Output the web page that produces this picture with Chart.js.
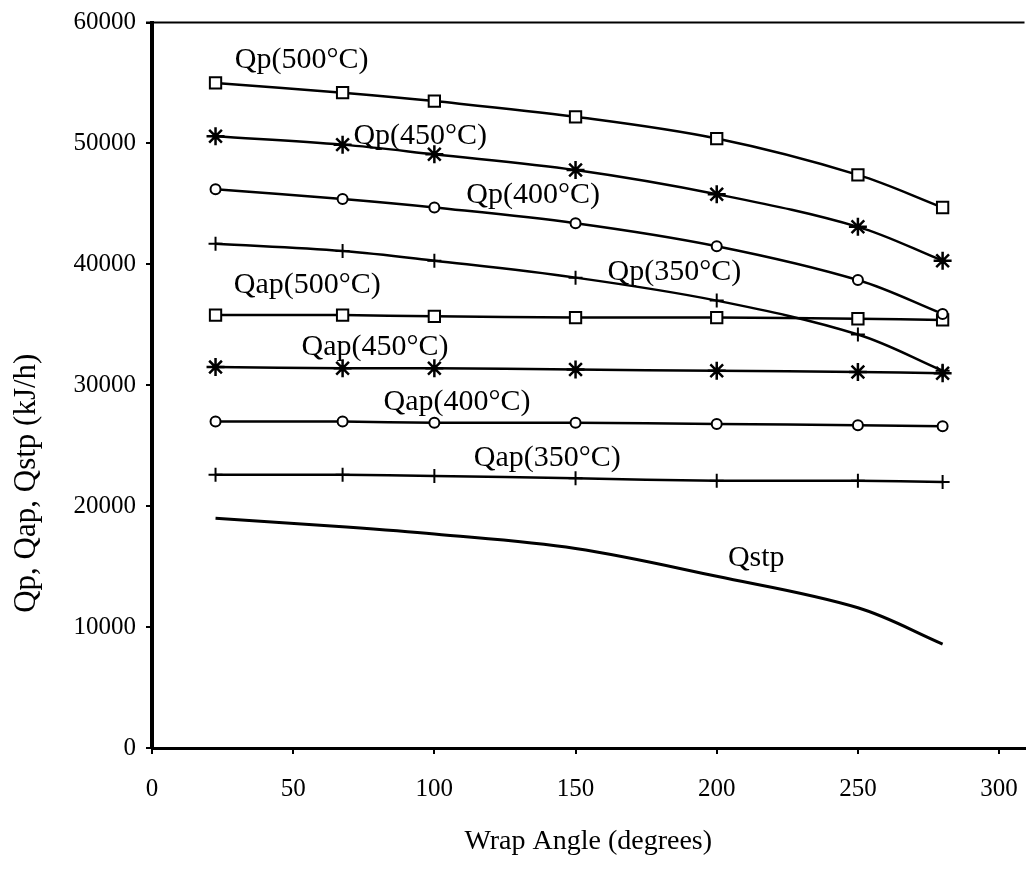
<!DOCTYPE html>
<html>
<head>
<meta charset="utf-8">
<script src="https://cdn.jsdelivr.net/npm/chart.js@4.4.1/dist/chart.umd.min.js"></script>
<style>
  html, body { margin: 0; padding: 0; background: #fff; overflow: hidden; }
  canvas { display: block; }
</style>
</head>
<body>
<canvas id="chart" width="1036" height="870"></canvas>
<script>
// wrap angle (degrees) at which every curve was computed
var wrapAngle = [22.5, 67.5, 100, 150, 200, 250, 280];

// heat flows, kJ/h
var qp500  = [55000, 54200, 53500, 52200, 50400, 47400, 44700];
var qp450  = [50600, 49900, 49100, 47800, 45800, 43100, 40300];
var qp400  = [46200, 45400, 44700, 43400, 41500, 38700, 35900];
var qp350  = [41700, 41100, 40300, 38900, 37000, 34200, 31200];
var qap500 = [35800, 35800, 35700, 35600, 35600, 35500, 35400];
var qap450 = [31500, 31400, 31400, 31300, 31200, 31100, 31000];
var qap400 = [27000, 27000, 26900, 26900, 26800, 26700, 26600];
var qap350 = [22600, 22600, 22500, 22300, 22100, 22100, 22000];
var qstp   = [19000, 18300, 17700, 16500, 14200, 11600, 8600];

var xTicks = [0, 50, 100, 150, 200, 250, 300];
var yTicks = [0, 10000, 20000, 30000, 40000, 50000, 60000];

var xTitle = "Wrap Angle (degrees)";
var yTitle = "Qp, Qap, Qstp (kJ/h)";

// curve labels, placed in data units
var curveLabels = [
  { text: "Qp(500°C)",  x: 53,  y: 56900 },
  { text: "Qp(450°C)",  x: 95,  y: 50600 },
  { text: "Qp(400°C)",  x: 135, y: 45760 },
  { text: "Qp(350°C)",  x: 185, y: 39340 },
  { text: "Qap(500°C)", x: 55,  y: 38270 },
  { text: "Qap(450°C)", x: 79,  y: 33170 },
  { text: "Qap(400°C)", x: 108, y: 28640 },
  { text: "Qap(350°C)", x: 140, y: 23950 },
  { text: "Qstp",       x: 214, y: 15720 }
];

var SERIF = '"Liberation Serif", "Times New Roman", serif';

function series(label, values, style, radius, width) {
  return {
    label: label,
    data: wrapAngle.map(function (x, i) { return { x: x, y: values[i] }; }),
    borderColor: "#000",
    borderWidth: width || 2.5,
    pointStyle: style,
    pointRadius: radius,
    pointBorderColor: "#000",
    pointBackgroundColor: "#fff",
    pointBorderWidth: style === "star" ? 2.5 : 2,
    tension: 0.35,
    fill: false
  };
}

// top frame line, curve labels and the y title
var annotPlugin = {
  id: "annot",
  afterDatasetsDraw: function (chart) {
    var ctx = chart.ctx, xs = chart.scales.x, ys = chart.scales.y, a = chart.chartArea;
    ctx.save();
    ctx.strokeStyle = "#000";
    ctx.lineWidth = 2;
    ctx.beginPath();
    ctx.moveTo(a.left - 6, a.top);
    ctx.lineTo(a.right, a.top);
    ctx.stroke();

    ctx.fillStyle = "#000";
    ctx.textAlign = "center";
    ctx.textBaseline = "middle";
    ctx.font = "30px " + SERIF;
    curveLabels.forEach(function (l) {
      ctx.fillText(l.text, xs.getPixelForValue(l.x), ys.getPixelForValue(l.y));
    });

    ctx.font = "31px " + SERIF;
    ctx.translate(27, a.top + (a.bottom - a.top) * 0.635);
    ctx.rotate(-Math.PI / 2);
    ctx.fillText(yTitle, 0, 0);
    ctx.restore();
  }
};

var ctx = document.getElementById("chart").getContext("2d");
var myChart = new Chart(ctx, {
  type: "line",
  data: {
    datasets: [
      series("Qp(500°C)", qp500, "rect", 8),
      series("Qp(450°C)", qp450, "star", 9),
      series("Qp(400°C)", qp400, "circle", 5),
      series("Qp(350°C)", qp350, "cross", 7),
      series("Qap(500°C)", qap500, "rect", 8),
      series("Qap(450°C)", qap450, "star", 9),
      series("Qap(400°C)", qap400, "circle", 5),
      series("Qap(350°C)", qap350, "cross", 7),
      series("Qstp", qstp, "circle", 0, 3)
    ]
  },
  options: {
    responsive: false,
    animation: false,
    layout: { padding: { top: 19, right: 0, bottom: 0, left: 0 } },
    plugins: {
      legend: { display: false },
      tooltip: { enabled: false }
    },
    scales: {
      x: {
        type: "linear",
        min: 0,
        max: 309,
        afterFit: function (s) { s.height = 122; s.paddingLeft = 0; s.paddingRight = 0; },
        afterBuildTicks: function (s) { s.ticks = xTicks.map(function (v) { return { value: v }; }); },
        ticks: { color: "#000", font: { family: SERIF, size: 25 }, padding: 20, maxRotation: 0,
                 callback: function (v) { return String(v); } },
        grid: { drawOnChartArea: false, drawTicks: true, tickLength: 6, color: "#000", lineWidth: 2 },
        border: { display: true, color: "#000", width: 3 },
        title: { display: true, text: xTitle, color: "#000", font: { family: SERIF, size: 28 }, padding: { top: 0, bottom: 12 } }
      },
      y: {
        min: 0,
        max: 60000,
        afterFit: function (s) { s.width = 152; },
        afterBuildTicks: function (s) { s.ticks = yTicks.map(function (v) { return { value: v }; }); },
        ticks: { color: "#000", font: { family: SERIF, size: 25, lineHeight: 1 }, padding: 10,
                 callback: function (v) { return String(v); } },
        grid: { drawOnChartArea: false, drawTicks: true, tickLength: 6, color: "#000", lineWidth: 2 },
        border: { display: true, color: "#000", width: 4 }
      }
    }
  },
  plugins: [annotPlugin]
});
</script>
</body>
</html>
